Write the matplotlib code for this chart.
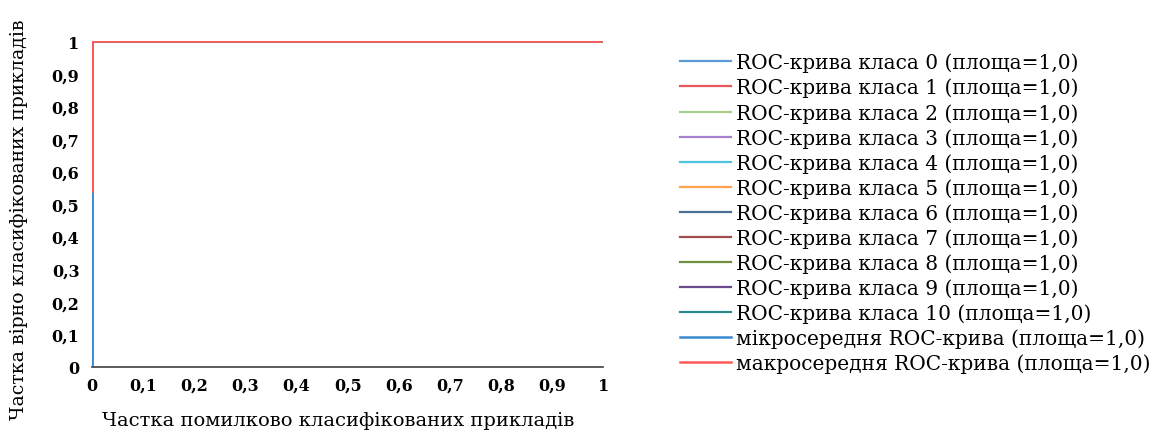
import matplotlib.pyplot as plt

# ROC curves for each class: all perfect classifiers
class_ids = [0, 1, 2, 3, 4, 5, 6, 7, 8, 9, 10]
class_auc = [1.0] * 11
class_fpr = [[0.0, 0.0, 1.0] for _ in class_ids]
class_tpr = [[0.0, 1.0, 1.0] for _ in class_ids]

micro_fpr = [0.0, 0.0, 1.0]
micro_tpr = [0.0, 1.0, 1.0]
micro_auc = 1.0

macro_fpr = [0.0, 0.0, 1.0]
macro_tpr = [0.54, 1.0, 1.0]
macro_auc = 1.0

ticks = [0, 0.1, 0.2, 0.3, 0.4, 0.5, 0.6, 0.7, 0.8, 0.9, 1]
tick_labels = ['0', '0,1', '0,2', '0,3', '0,4', '0,5', '0,6', '0,7', '0,8', '0,9', '1']

colors = ['#5b9bd5', '#e8595c', '#a9d18e', '#a680cc', '#4fc3dc', '#ffa34d',
          '#4b6e96', '#a14d4d', '#6f8f3f', '#6a4c8c', '#2a8a8c']
micro_color = '#3a8bd2'
macro_color = '#ff5a5a'

def fmt(v):
    return ('%.1f' % v).replace('.', ',')

fig = plt.figure(figsize=(11.57, 4.39), dpi=100)
ax = fig.add_axes([0.0795, 0.162, 0.442, 0.742])

for i, c in enumerate(class_ids):
    ax.plot(class_fpr[i], class_tpr[i], color=colors[i], lw=1.6,
            label='ROC-крива класа %d (площа=%s)' % (c, fmt(class_auc[i])))
ax.plot(micro_fpr, micro_tpr, color=micro_color, lw=1.8,
        label='мікросередня ROC-крива (площа=%s)' % fmt(micro_auc))
ax.plot(macro_fpr, macro_tpr, color=macro_color, lw=1.8,
        label='макросередня ROC-крива (площа=%s)' % fmt(macro_auc))

ax.set_xlim(0, 1)
ax.set_ylim(0, 1)
ax.set_xticks(ticks)
ax.set_xticklabels(tick_labels)
ax.set_yticks(ticks)
ax.set_yticklabels(tick_labels)
ax.tick_params(length=0)
for lab in ax.get_xticklabels() + ax.get_yticklabels():
    lab.set_fontfamily('DejaVu Serif')
    lab.set_fontweight('bold')
    lab.set_fontsize(11.5)
ax.tick_params(axis='x', pad=7)
ax.tick_params(axis='y', pad=9)

for s in ['top', 'right', 'left']:
    ax.spines[s].set_visible(False)
ax.spines['bottom'].set_color('#404040')
ax.spines['bottom'].set_linewidth(1.2)

ax.set_xlabel('Частка помилково класифікованих прикладів',
              family='DejaVu Serif', fontsize=14)
ax.xaxis.set_label_coords(0.481, -0.135)
ax.set_ylabel('Частка вірно класифікованих прикладів',
              family='DejaVu Serif', fontsize=13.6)
ax.yaxis.set_label_coords(-0.125, 0.455)

fig.legend(loc='upper left', bbox_to_anchor=(0.581, 0.896), frameon=False,
           prop={'family': 'DejaVu Serif', 'size': 14.5},
           handlelength=2.5, handletextpad=0.25, labelspacing=0.27,
           borderaxespad=0)

fig.savefig('out.png', dpi=100)
